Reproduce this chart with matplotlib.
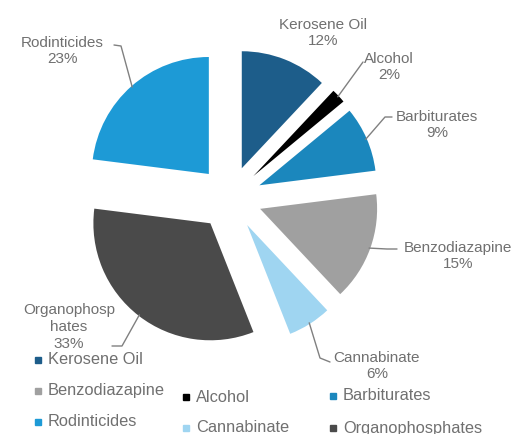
import matplotlib
matplotlib.use("Agg")
import matplotlib.pyplot as plt
import numpy as np

plt.rcParams['font.family'] = ['Liberation Sans', 'DejaVu Sans']

categories = ["Kerosene Oil", "Alcohol", "Barbiturates", "Benzodiazapine",
              "Cannabinate", "Organophosphates", "Rodinticides"]
values = [12, 2, 9, 15, 6, 33, 23]
data_labels = ["Kerosene Oil\n12%", "Alcohol\n2%", "Barbiturates\n9%",
               "Benzodiazapine\n15%", "Cannabinate\n6%",
               "Organophosp\nhates\n33%", "Rodinticides\n23%"]
colors = ["#1d5d8a", "#000000", "#1b87bd", "#a0a0a0", "#9fd5f1",
          "#4a4a4a", "#1d9ad6"]

W, H = 524, 434
fig = plt.figure(figsize=(W / 100, H / 100), dpi=100)
ax = fig.add_axes([0, 0, 1, 1])

cx, cy, r = 230, H - 198, 117
explode_px = 32
wedges, _ = ax.pie(values, colors=colors, startangle=90, counterclock=False,
                   center=(cx, cy), radius=r,
                   explode=[explode_px] * len(values),
                   wedgeprops=dict(linewidth=0), frame=True)
ax.set_xlim(0, W)
ax.set_ylim(0, H)
ax.set_aspect('equal')
ax.axis('off')

txt_col = "#707070"
line_col = "#808080"
fs = 11
leg_fs = 11.8

# label positions (pixel coords, y from top) and leader-line elbows
label_pos = [(323, 33), (389, 67), (437, 125), (458, 256), (377, 366),
             (69, 327), (62, 51)]
leader = [None,
          [(363, 62)],
          [(392, 117), (385, 117)],
          [(397, 249), (387, 249)],
          [(330, 362), (320, 358)],
          [(112, 346), (122, 346)],
          [(114, 45), (121, 46)]]

for i, w in enumerate(wedges):
    x, y = label_pos[i]
    ax.text(x, H - y, data_labels[i], ha='center', va='center',
            fontsize=fs, color=txt_col, linespacing=1.25)
    if leader[i] is not None:
        ang = np.deg2rad((w.theta1 + w.theta2) / 2)
        wx = w.center[0] + r * np.cos(ang) * 0.99
        wy = w.center[1] + r * np.sin(ang) * 0.99
        pts = [(px, H - py) for px, py in leader[i]] + [(wx, wy)]
        xs, ys = zip(*pts)
        ax.plot(xs, ys, color=line_col, lw=1.0, solid_capstyle='round')

# legend, laid out as in the reference
leg_pos = {"Kerosene Oil": (38, 360), "Benzodiazapine": (38, 391),
           "Rodinticides": (38, 422), "Alcohol": (186, 397),
           "Cannabinate": (186, 428), "Barbiturates": (333, 396),
           "Organophosphates": (333, 428)}
for cat, col in zip(categories, colors):
    x, y = leg_pos[cat]
    ax.plot([x], [H - y], marker='s', ms=5, color=col, mec=col, ls='none')
    ax.text(x + 10, H - y, cat, ha='left', va='center', fontsize=leg_fs,
            color=txt_col)

fig.savefig("out.png", dpi=100)
